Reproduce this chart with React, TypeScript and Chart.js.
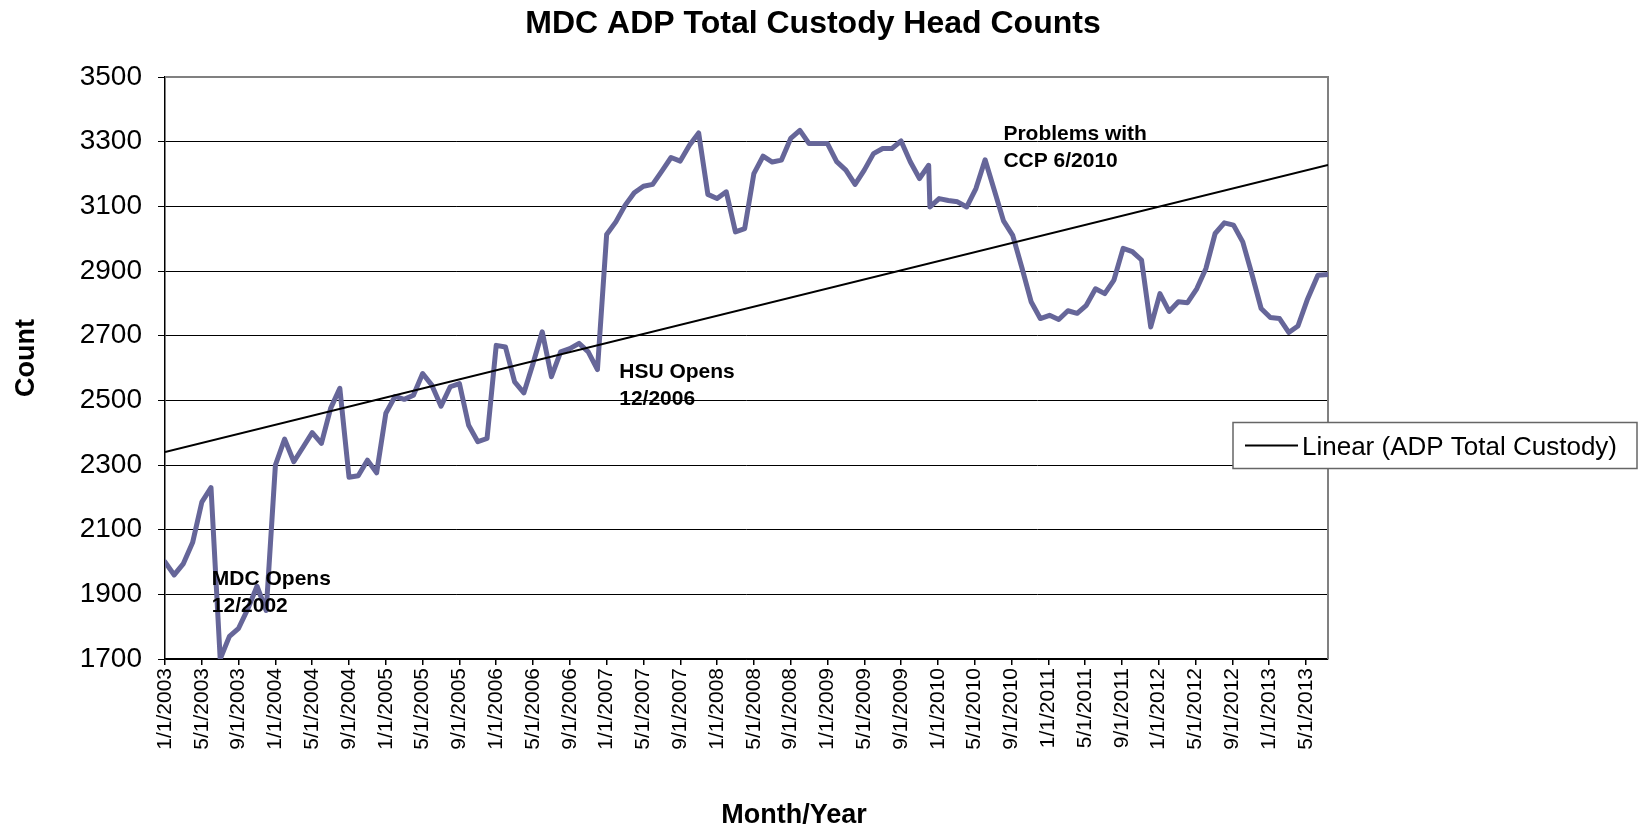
import React, { useEffect, useRef } from "react";
import { Chart, registerables } from "chart.js";

Chart.register(...registerables);

const FONT = "'Liberation Sans', Arial, sans-serif";

const chartTitle = "MDC ADP Total Custody Head Counts";
const xAxisTitle = "Month/Year";
const yAxisTitle = "Count";
const seriesName = "ADP Total Custody";
const trendName = "Linear (ADP Total Custody)";

// Observation dates (m/d/yyyy)
const dates: string[] = [
  "1/1/2003", "2/1/2003", "3/1/2003", "4/1/2003", "5/1/2003", "6/1/2003", "7/1/2003", "8/1/2003", "9/1/2003", "10/1/2003", "11/1/2003", "12/1/2003",
  "1/1/2004", "2/1/2004", "3/1/2004", "4/1/2004", "5/1/2004", "6/1/2004", "7/1/2004", "8/1/2004", "9/1/2004", "10/1/2004", "11/1/2004", "12/1/2004",
  "1/1/2005", "2/1/2005", "3/1/2005", "4/1/2005", "5/1/2005", "6/1/2005", "7/1/2005", "8/1/2005", "9/1/2005", "10/1/2005", "11/1/2005", "12/1/2005",
  "1/1/2006", "2/1/2006", "3/1/2006", "4/1/2006", "5/1/2006", "6/1/2006", "7/1/2006", "8/1/2006", "9/1/2006", "10/1/2006", "11/1/2006", "12/1/2006",
  "1/1/2007", "2/1/2007", "3/1/2007", "4/1/2007", "5/1/2007", "6/1/2007", "7/1/2007", "8/1/2007", "9/1/2007", "10/1/2007", "11/1/2007", "12/1/2007",
  "1/1/2008", "2/1/2008", "3/1/2008", "4/1/2008", "5/1/2008", "6/1/2008", "7/1/2008", "8/1/2008", "9/1/2008", "10/1/2008", "11/1/2008", "12/1/2008",
  "1/1/2009", "2/1/2009", "3/1/2009", "4/1/2009", "5/1/2009", "6/1/2009", "7/1/2009", "8/1/2009", "9/1/2009", "10/1/2009", "11/1/2009", "12/1/2009", "12/5/2009",
  "1/5/2010", "2/5/2010", "3/5/2010", "4/5/2010", "5/5/2010", "6/5/2010", "7/5/2010", "8/5/2010", "9/5/2010", "10/5/2010", "11/5/2010", "12/5/2010",
  "1/5/2011", "2/5/2011", "3/5/2011", "4/5/2011", "5/5/2011", "6/5/2011", "7/5/2011", "8/5/2011", "9/5/2011", "10/5/2011", "11/5/2011", "12/5/2011",
  "1/5/2012", "2/5/2012", "3/5/2012", "4/5/2012", "5/5/2012", "6/5/2012", "7/5/2012", "8/5/2012", "9/5/2012", "10/5/2012", "11/5/2012", "12/5/2012",
  "1/5/2013", "2/5/2013", "3/5/2013", "4/5/2013", "5/5/2013", "6/10/2013", "7/13/2013",
];

// ADP total custody head counts
const counts: number[] = [
  2000, 1960, 1995, 2060, 2185, 2230, 1700, 1770, 1795, 1855, 1925, 1850,
  2300, 2380, 2310, 2355, 2400, 2367, 2475, 2537, 2262, 2267, 2315, 2276,
  2460, 2512, 2503, 2516, 2583, 2547, 2482, 2542, 2552, 2423, 2372, 2382,
  2670, 2665, 2557, 2523, 2614, 2712, 2573, 2650, 2660, 2676, 2650, 2595,
  3013, 3052, 3103, 3142, 3162, 3168, 3209, 3251, 3240, 3289, 3327, 3137,
  3124, 3145, 3021, 3031, 3201, 3255, 3237, 3243, 3310, 3335, 3294, 3294,
  3294, 3238, 3212, 3168, 3212, 3263, 3279, 3279, 3302, 3238, 3186, 3227, 3098,
  3124, 3118, 3114, 3098, 3155, 3244, 3150, 3055, 3010, 2910, 2805, 2753,
  2763, 2750, 2777, 2769, 2794, 2845, 2830, 2872, 2970, 2960, 2934, 2727,
  2830, 2775, 2805, 2802, 2845, 2908, 3016, 3049, 3042, 2990, 2890, 2784,
  2756, 2753, 2710, 2730, 2810, 2887, 2889,
];

// x-axis tick labels (every 4 months)
const tickLabels: string[] = [
  "1/1/2003", "5/1/2003", "9/1/2003", "1/1/2004", "5/1/2004", "9/1/2004",
  "1/1/2005", "5/1/2005", "9/1/2005", "1/1/2006", "5/1/2006", "9/1/2006",
  "1/1/2007", "5/1/2007", "9/1/2007", "1/1/2008", "5/1/2008", "9/1/2008",
  "1/1/2009", "5/1/2009", "9/1/2009", "1/1/2010", "5/1/2010", "9/1/2010",
  "1/1/2011", "5/1/2011", "9/1/2011", "1/1/2012", "5/1/2012", "9/1/2012",
  "1/1/2013", "5/1/2013",
];

const yMin = 1700;
const yMax = 3500;
const yStep = 200;

// Text notes anchored in data coordinates (month index, count)
const notes = [
  { lines: ["MDC Opens", "12/2002"], month: 5.09, value: 1946 },
  { lines: ["HSU Opens", "12/2006"], month: 49.37, value: 2586 },
  { lines: ["Problems with", "CCP 6/2010"], month: 91.12, value: 3322 },
];

function monthIndex(d: string): number {
  const [m, day, y] = d.split("/").map(Number);
  return (y - 2003) * 12 + (m - 1) + (day - 1) / 30;
}

function monthToLabel(v: number): string {
  return tickLabels[Math.round(v / 4)] ?? "";
}

export default function App() {
  const ref = useRef<HTMLCanvasElement | null>(null);

  useEffect(() => {
    if (!ref.current) return;
    const xs = dates.map(monthIndex);
    const points = xs.map((x, i) => ({ x, y: counts[i] }));

    // least squares linear trend
    const n = xs.length;
    const mx = xs.reduce((a, b) => a + b, 0) / n;
    const my = counts.reduce((a, b) => a + b, 0) / n;
    let sxy = 0, sxx = 0;
    xs.forEach((x, i) => { sxy += (x - mx) * (counts[i] - my); sxx += (x - mx) * (x - mx); });
    const slope = sxy / sxx;
    const icpt = my - slope * mx;
    const x0 = xs[0];
    const x1 = xs[n - 1];
    const trend = [{ x: x0, y: icpt + slope * x0 }, { x: x1, y: icpt + slope * x1 }];

    const decor = {
      id: "decor",
      beforeDatasetsDraw(chart: any) {
        const { ctx, chartArea: a } = chart;
        ctx.save();
        ctx.strokeStyle = "#808080";
        ctx.lineWidth = 2;
        ctx.beginPath();
        ctx.moveTo(a.left, a.top);
        ctx.lineTo(a.right, a.top);
        ctx.lineTo(a.right, a.bottom);
        ctx.stroke();
        ctx.restore();
      },
      afterDraw(chart: any) {
        const { ctx, scales } = chart;
        const xs2 = scales.x;
        const ys2 = scales.y;
        ctx.save();
        ctx.fillStyle = "#000";
        ctx.textBaseline = "alphabetic";
        ctx.textAlign = "center";
        ctx.font = `bold 32px ${FONT}`;
        ctx.fillText(chartTitle, 813, 33);
        ctx.font = `bold 27px ${FONT}`;
        ctx.fillText(xAxisTitle, 794, 823);
        ctx.save();
        ctx.translate(34, 358);
        ctx.rotate(-Math.PI / 2);
        ctx.fillText(yAxisTitle, 0, 0);
        ctx.restore();

        ctx.font = `bold 21px ${FONT}`;
        ctx.textAlign = "left";
        ctx.textBaseline = "middle";
        notes.forEach((nt) => {
          const px = xs2.getPixelForValue(nt.month);
          const py = ys2.getPixelForValue(nt.value);
          nt.lines.forEach((l, k) => ctx.fillText(l, px, py + k * 26.5));
        });

        // legend
        ctx.fillStyle = "#fff";
        ctx.fillRect(1233, 422.5, 404, 46);
        ctx.strokeStyle = "#666";
        ctx.lineWidth = 1.5;
        ctx.strokeRect(1233, 422.5, 404, 46);
        ctx.strokeStyle = "#000";
        ctx.lineWidth = 2;
        ctx.beginPath();
        ctx.moveTo(1245, 445.5);
        ctx.lineTo(1298, 445.5);
        ctx.stroke();
        ctx.fillStyle = "#000";
        ctx.font = `26px ${FONT}`;
        ctx.textBaseline = "alphabetic";
        ctx.fillText(trendName, 1302, 455);
        ctx.restore();
      },
    };

    const chart = new Chart(ref.current, {
      type: "line",
      data: {
        datasets: [
          {
            label: trendName,
            data: trend,
            borderColor: "#000",
            borderWidth: 2,
            pointRadius: 0,
            order: 0,
          },
          {
            label: seriesName,
            data: points,
            borderColor: "#666699",
            borderWidth: 5,
            borderJoinStyle: "round",
            borderCapStyle: "round",
            pointRadius: 0,
            tension: 0,
            order: 1,
          },
        ],
      },
      options: {
        responsive: false,
        animation: false,
        events: [],
        layout: { padding: { top: 77, right: 324, left: 0, bottom: 0 } },
        plugins: {
          legend: { display: false },
          title: { display: false },
          tooltip: { enabled: false },
        },
        scales: {
          x: {
            type: "linear",
            min: x0,
            max: x1,
            afterFit: (s: any) => { s.height = 169; },
            afterBuildTicks: (s: any) => {
              s.ticks = tickLabels.map((_, k) => ({ value: k * 4 }));
            },
            ticks: {
              autoSkip: false,
              minRotation: 90,
              maxRotation: 90,
              padding: 3,
              color: "#000",
              font: { family: FONT, size: 21 },
              callback: (v: any) => monthToLabel(Number(v)),
            },
            grid: { drawOnChartArea: false, drawTicks: true, tickLength: 6, color: "#000", lineWidth: 1.5 },
            border: { display: true, color: "#000", width: 1.5 },
          },
          y: {
            min: yMin,
            max: yMax,
            afterFit: (s: any) => { s.width = 165; },
            ticks: {
              stepSize: yStep,
              padding: 16,
              color: "#000",
              font: { family: FONT, size: 28 },
              callback: (v: any) => String(v),
            },
            grid: { color: "#000", lineWidth: 1, tickLength: 7, drawTicks: true },
            border: { display: true, color: "#000", width: 1.5 },
          },
        },
      },
      plugins: [decor],
    });
    return () => chart.destroy();
  }, []);

  return (
    <div style={{ position: "fixed", left: 0, top: 0, width: 1652, height: 828, background: "#fff" }}>
      <canvas ref={ref} width={1652} height={828} style={{ display: "block", width: 1652, height: 828 }} />
    </div>
  );
}
